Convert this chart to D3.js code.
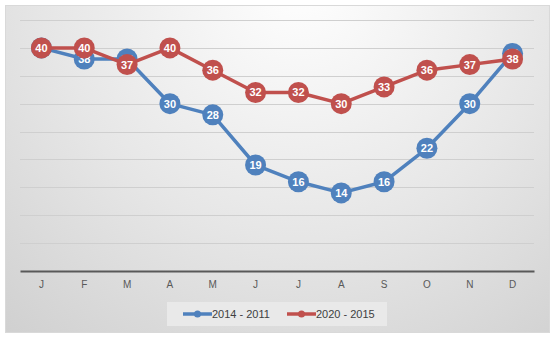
<!DOCTYPE html>
<html><head><meta charset="utf-8">
<script src="https://cdn.jsdelivr.net/npm/d3@7"></script>
<style>html,body{margin:0;padding:0;background:#fff;}</style>
</head><body>
<svg id="c" width="555" height="339"></svg>
<script>
const months = ["J","F","M","A","M","J","J","A","S","O","N","D"];
const seriesNames = ["2014 - 2011","2020 - 2015"];
const blueValues = [40,38,38,30,28,19,16,14,16,22,30,39];
const redValues  = [40,40,37,40,36,32,32,30,33,36,37,38];
const yTicks = [0,5,10,15,20,25,30,35,40,45];
const colors = ["#4f81bd","#c0504d"];

const svg = d3.select("#c");
const defs = svg.append("defs");
const g = defs.append("radialGradient").attr("id","bg")
  .attr("gradientUnits","userSpaceOnUse")
  .attr("cx",300).attr("cy",-20).attr("r",470);
g.append("stop").attr("offset","0%").attr("stop-color","#ffffff");
g.append("stop").attr("offset","55%").attr("stop-color","#e6e6e6");
g.append("stop").attr("offset","100%").attr("stop-color","#cfcfcf");

svg.append("rect").attr("x",5.5).attr("y",5.5).attr("width",544).attr("height",327)
  .attr("fill","url(#bg)").attr("stroke","#d9d9d9").attr("stroke-width",1);

const x = d3.scaleBand().domain(d3.range(12)).range([20,534]);
const y = d3.scaleLinear().domain([0,45]).range([271,20]);

// gridlines
const grid = svg.append("g");
grid.selectAll("line").data(yTicks.filter(t=>t>0)).enter().append("line")
  .attr("x1",20).attr("x2",534)
  .attr("y1",d=>Math.round(y(d))+0.5).attr("y2",d=>Math.round(y(d))+0.5)
  .attr("stroke","#cfcfcf").attr("stroke-width",1);

// x axis
const xAxis = d3.axisBottom(x).tickSize(0).tickPadding(10).tickFormat(i=>months[i]);
const ax = svg.append("g").attr("transform","translate(0,271)").call(xAxis);
ax.select(".domain").attr("stroke","#595959").attr("stroke-width",2);
ax.selectAll("text").attr("font-family","Liberation Sans, Arial, sans-serif")
  .attr("font-size",10).attr("fill","#595959");

const cx = i => x(i) + x.bandwidth()/2;
const line = d3.line().x((d,i)=>cx(i)).y(d=>y(d));

[blueValues, redValues].forEach((vals, s) => {
  const sg = svg.append("g");
  sg.append("path").datum(vals).attr("d",line).attr("fill","none")
    .attr("stroke",colors[s]).attr("stroke-width",3.5).attr("stroke-linejoin","round");
  sg.selectAll("circle").data(vals).enter().append("circle")
    .attr("cx",(d,i)=>cx(i)).attr("cy",d=>y(d)).attr("r",10.5)
    .attr("fill",colors[s]);
  sg.selectAll("text").data(vals).enter().append("text")
    .attr("x",(d,i)=>cx(i)).attr("y",d=>y(d)).attr("dy","0.36em")
    .attr("text-anchor","middle").attr("font-family","Liberation Sans, Arial, sans-serif")
    .attr("font-weight","bold").attr("font-size",11).attr("fill","#ffffff")
    .text(d=>d3.format("d")(d));
});

// legend
const lg = svg.append("g");
lg.append("rect").attr("x",167).attr("y",302).attr("width",220).attr("height",24).attr("fill","#e9e9e9");
const legX = [183, 287];
seriesNames.forEach((n,s)=>{
  lg.append("line").attr("x1",legX[s]).attr("x2",legX[s]+29).attr("y1",314).attr("y2",314)
    .attr("stroke",colors[s]).attr("stroke-width",3.5);
  lg.append("circle").attr("cx",legX[s]+14.5).attr("cy",314).attr("r",3.5).attr("fill",colors[s]);
  lg.append("text").attr("x",legX[s]+29).attr("y",314).attr("dy","0.36em")
    .attr("font-family","Liberation Sans, Arial, sans-serif").attr("font-size",11)
    .attr("fill","#404040").text(n);
});
</script>
</body></html>
